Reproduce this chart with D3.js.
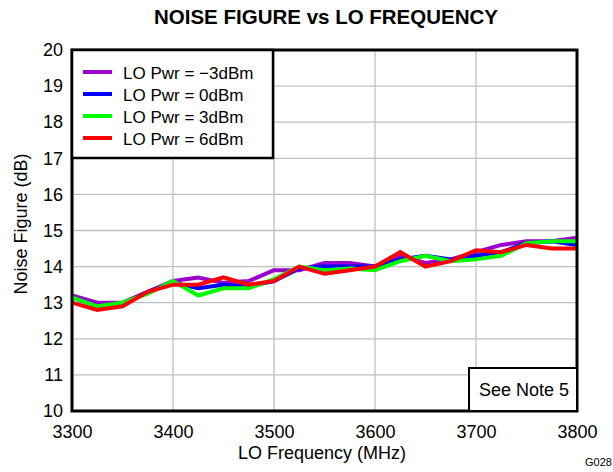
<!DOCTYPE html>
<html><head><meta charset="utf-8">
<script src="https://cdn.jsdelivr.net/npm/d3@7"></script>
<style>body{margin:0;background:#fff;}svg{display:block;font-family:Arial,"Liberation Sans",sans-serif;}</style>
</head><body>
<svg id="c" width="613" height="472"></svg>
<script>
const freqs = [3300,3325,3350,3375,3400,3425,3450,3475,3500,3525,3550,3575,3600,3625,3650,3675,3700,3725,3750,3775,3800];
const nfM3 = [13.2,13.0,13.0,13.3,13.6,13.7,13.55,13.6,13.9,13.9,14.1,14.1,14.0,14.3,14.1,14.2,14.4,14.6,14.7,14.7,14.8];
const nf0  = [13.15,12.9,12.95,13.3,13.55,13.4,13.5,13.45,13.6,13.95,14.0,14.0,14.0,14.2,14.3,14.2,14.3,14.4,14.65,14.7,14.6];
const nf3  = [13.15,12.9,13.0,13.25,13.6,13.2,13.4,13.4,13.65,14.0,13.9,13.95,13.9,14.15,14.3,14.15,14.2,14.3,14.65,14.7,14.7];
const nf6  = [13.0,12.8,12.9,13.3,13.5,13.5,13.7,13.5,13.6,14.0,13.8,13.9,14.0,14.4,14.0,14.15,14.45,14.4,14.6,14.5,14.5];
const seriesNames = ["LO Pwr = \u22123dBm","LO Pwr = 0dBm","LO Pwr = 3dBm","LO Pwr = 6dBm"];
const seriesColors = ["#9900cc","#0000ff","#00ff00","#ff0000"];
const xTicks = [3300,3400,3500,3600,3700,3800];
const yTicks = [10,11,12,13,14,15,16,17,18,19,20];

const svg = d3.select("#c");
const L=72, R=577, T=50, B=411;
const x = d3.scaleLinear().domain([3300,3800]).range([L,R]);
const y = d3.scaleLinear().domain([10,20]).range([B,T]);
const FF = "Arial,'Liberation Sans',sans-serif";

// grid
svg.append("g").selectAll("line").data(xTicks.slice(1,-1)).join("line")
  .attr("x1",d=>x(d)).attr("x2",d=>x(d)).attr("y1",T).attr("y2",B)
  .attr("stroke","#c0c0c0").attr("stroke-width",1.3);
svg.append("g").selectAll("line").data(yTicks.slice(1,-1)).join("line")
  .attr("x1",L).attr("x2",R).attr("y1",d=>y(d)).attr("y2",d=>y(d))
  .attr("stroke","#c0c0c0").attr("stroke-width",1.3);

// series
const all = [nfM3,nf0,nf3,nf6];
const line = d3.line().x((d,i)=>x(freqs[i])).y(d=>y(d));
all.forEach((s,k)=>{
  svg.append("path").datum(s).attr("d",line).attr("fill","none")
    .attr("stroke",seriesColors[k]).attr("stroke-width",4).attr("stroke-linejoin","miter");
});

// frame
svg.append("rect").attr("x",L).attr("y",T).attr("width",R-L).attr("height",B-T)
  .attr("fill","none").attr("stroke","#000").attr("stroke-width",3);

// axes tick labels
const xa = svg.append("g").attr("transform",`translate(0,${B})`)
  .call(d3.axisBottom(x).tickValues(xTicks).tickSize(0).tickPadding(14).tickFormat(d3.format("d")));
xa.select(".domain").remove();
xa.selectAll("text").attr("font-size",18).attr("fill","#000").attr("font-family",FF);
const ya = svg.append("g").attr("transform",`translate(${L},0)`)
  .call(d3.axisLeft(y).tickValues(yTicks).tickSize(0).tickPadding(9).tickFormat(d3.format("d")));
ya.select(".domain").remove();
ya.selectAll("text").attr("font-size",18).attr("fill","#000").attr("font-family",FF);

// legend
svg.append("rect").attr("x",L).attr("y",T).attr("width",201).attr("height",108)
  .attr("fill","#fff").attr("stroke","#000").attr("stroke-width",2.5);
seriesNames.forEach((n,k)=>{
  const yy = 72 + k*22;
  svg.append("line").attr("x1",83).attr("x2",112).attr("y1",yy).attr("y2",yy)
    .attr("stroke",seriesColors[k]).attr("stroke-width",4);
  svg.append("text").attr("x",123).attr("y",yy+6.5).attr("font-size",17).text(n);
});

// note box
svg.append("rect").attr("x",469).attr("y",368).attr("width",R-469).attr("height",B-368)
  .attr("fill","#fff").attr("stroke","#000").attr("stroke-width",2);
svg.append("text").attr("x",524).attr("y",396).attr("text-anchor","middle").attr("font-size",18).text("See Note 5");

// titles
svg.append("text").attr("x",326).attr("y",24).attr("text-anchor","middle")
  .attr("font-size",20.5).attr("font-weight","bold").text("NOISE FIGURE vs LO FREQUENCY");
svg.append("text").attr("x",322).attr("y",459).attr("text-anchor","middle")
  .attr("font-size",18).text("LO Frequency (MHz)");
svg.append("text").attr("transform","translate(27,224) rotate(-90)").attr("text-anchor","middle")
  .attr("font-size",18).text("Noise Figure (dB)");
svg.append("text").attr("x",585).attr("y",466).attr("font-size",11).text("G028");
</script>
</body></html>
